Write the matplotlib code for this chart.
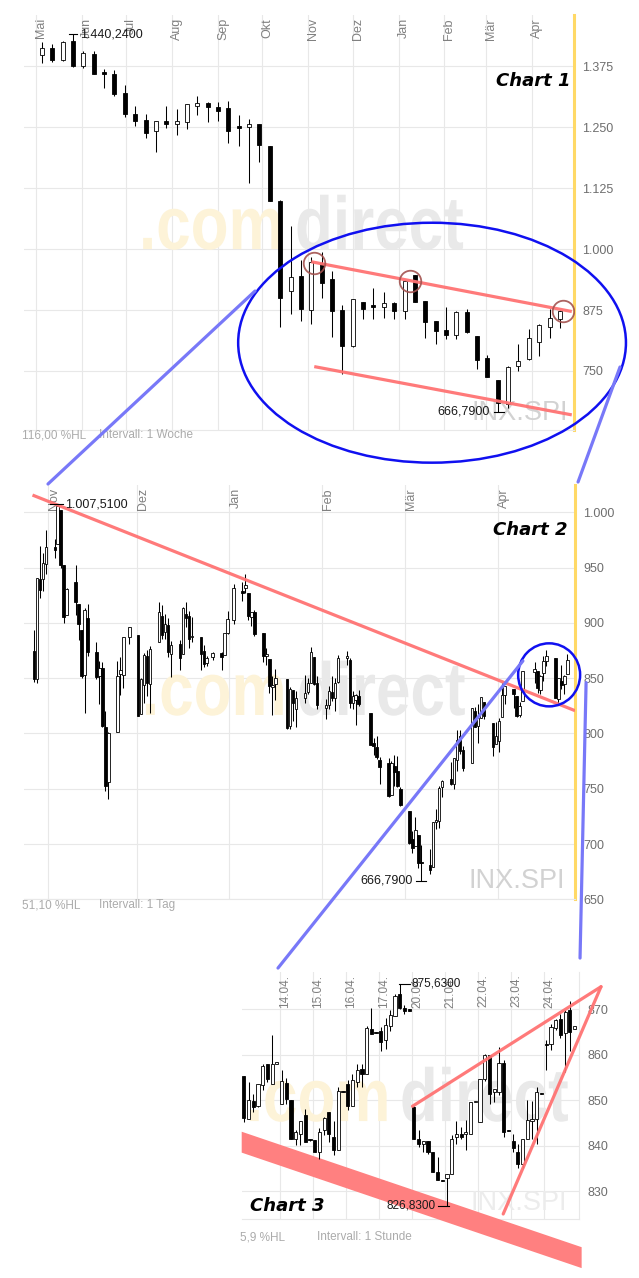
import numpy as np
import pandas as pd
import matplotlib
matplotlib.use("Agg")
import matplotlib.pyplot as plt
import matplotlib.dates as mdates
from matplotlib.patches import Rectangle, Ellipse, Polygon, ConnectionPatch, PathPatch
from matplotlib.transforms import offset_copy, Affine2D
from matplotlib.ticker import FuncFormatter
from matplotlib.textpath import TextPath
from matplotlib.font_manager import FontProperties

plt.rcParams['font.family'] = ['Liberation Sans', 'DejaVu Sans']

# ---------------------------------------------------------------- data
# Chart 1 : weekly candles, weeks starting 2008-04-28
c1_first_week = '2008-04-28'
c1_open = [1399, 1413, 1388, 1426, 1376, 1400, 1363, 1360, 1321, 1278,
           1264, 1242, 1262, 1256, 1261, 1293, 1300, 1292, 1290, 1252,
           1250, 1256, 1212, 1098, 915, 945, 876, 972, 938, 875,
           801, 891, 885, 882, 889, 874, 947, 894, 853, 834,
           824, 871, 822, 777, 732, 682, 761, 774, 810, 841, 856]
c1_high = [1424, 1421, 1426, 1440.24, 1406, 1406, 1370, 1367, 1336, 1293,
           1278, 1263, 1293, 1287, 1298, 1313, 1301, 1301, 1303, 1275,
           1266, 1256, 1212, 1100, 1047, 977, 984, 995, 956, 885,
           897, 891, 920, 911, 891, 936, 947, 894, 853, 881,
           874, 877, 822, 783, 732, 760, 805, 837, 846, 877, 876]
c1_low = [1382, 1384, 1385, 1374, 1372, 1360, 1331, 1314, 1271, 1252,
          1227, 1199, 1249, 1234, 1246, 1275, 1260, 1263, 1218, 1211,
          1135, 1179, 1098, 841, 867, 853, 846, 900, 820, 744,
          800, 857, 856, 859.5, 857, 857, 891, 818, 806, 815,
          815, 827, 754, 737, 666.79, 675, 751, 773, 781, 817, 838]
c1_close = [1413, 1388, 1425, 1376, 1402, 1360, 1360, 1319, 1278, 1263,
            1238, 1262, 1256, 1262, 1297, 1299, 1292, 1283, 1243, 1249,
            1256, 1213, 1098, 900, 942, 877, 973, 931, 874, 801,
            897, 878, 881, 889, 874, 935, 892, 851, 833, 824,
            871, 829, 773, 737, 684, 759, 771, 817, 844, 858, 874]
c1_months = ['Mai', 'Jun', 'Jul', 'Aug', 'Sep', 'Okt', 'Nov', 'Dez', 'Jan', 'Feb', 'Mär', 'Apr']
c1_month_start = ['2008-05-01', '2008-06-01', '2008-07-01', '2008-08-01', '2008-09-01',
                  '2008-10-01', '2008-11-01', '2008-12-01', '2009-01-01', '2009-02-01',
                  '2009-03-01', '2009-04-01']
c1_yticks = [750, 875, 1000, 1125, 1250, 1375]

# Chart 2 : daily candles 2008-10-27 .. 2009-04-24
c2_holidays = ['2008-11-27', '2008-12-25', '2009-01-01', '2009-01-19', '2009-02-16', '2009-04-10']
c2_open = [874.28, 848.92, 939.51, 939.38, 953.11,
           968.67, 971.31, 1001.84, 952.40, 907.44, 936.75, 917.15, 893.39, 853.13, 904.36,
           873.23, 852.34, 859.03, 805.87, 755.84, 801.20, 853.40, 852.90, 886.89,
           888.61, 817.94, 843.60, 869.75, 844.43, 882.71, 906.48, 892.17, 898.35, 871.79,
           881.07, 871.53, 908.16, 905.98, 886.96, 887.20, 874.31, 863.87, 869.51, 872.37, 870.58, 890.59,
           902.99, 929.17, 931.17, 927.45, 905.73, 909.91, 890.40, 869.79, 867.28, 841.99,
           844.45, 849.64, 806.77, 839.74, 822.16, 832.50, 837.30, 845.73, 868.89, 845.69,
           823.09, 825.69, 837.77, 831.75, 846.09, 868.24, 866.87, 827.41, 829.91, 833.95,
           818.61, 791.06, 787.91, 775.87, 773.25, 744.69, 770.64, 765.76, 749.93,
           729.57, 704.44, 698.60, 708.27, 684.04, 680.76, 679.28, 719.59, 720.89, 751.97,
           758.84, 753.88, 776.01, 797.92, 784.58, 772.97, 820.60, 806.81, 814.06, 828.68, 809.07, 790.88,
           793.59, 814.53, 835.13, 839.75, 834.12, 816.76, 829.29, 855.73, 856.88, 839.44,
           854.54, 865.18, 868.27, 831.25, 847.26, 844.62, 853.91]
c2_high = [893.78, 940.51, 969.97, 963.23, 984.38,
           975.57, 1007.51, 1001.84, 952.40, 931.46, 951.95, 917.15, 893.39, 913.01, 916.88,
           882.29, 865.90, 864.57, 820.52, 801.20, 865.60, 868.94, 887.68, 896.25,
           888.61, 850.54, 873.12, 875.60, 879.42, 918.57, 916.26, 908.27, 904.63, 883.24,
           884.63, 914.66, 918.85, 911.02, 905.47, 887.37, 880.44, 869.79, 873.74, 873.70, 891.12, 910.32,
           934.73, 936.63, 943.85, 927.45, 910.00, 911.93, 890.40, 877.02, 867.28, 851.59,
           858.13, 849.64, 841.72, 839.74, 838.61, 852.53, 850.45, 877.86, 868.89, 851.66,
           830.78, 842.60, 851.85, 850.55, 870.75, 875.01, 868.05, 838.22, 835.48, 839.43,
           818.61, 796.17, 797.58, 778.69, 777.85, 775.49, 780.12, 779.42, 751.27,
           729.57, 711.67, 724.12, 708.27, 699.09, 695.27, 719.60, 731.92, 752.63, 758.29,
           774.53, 778.12, 803.04, 803.24, 788.91, 823.37, 823.65, 826.78, 832.98, 828.68, 809.07, 810.48,
           813.62, 845.61, 842.50, 839.75, 834.12, 828.42, 856.91, 864.31, 856.88, 852.93,
           870.35, 875.63, 868.27, 850.09, 861.78, 852.87, 871.80]
c2_low = [846.75, 845.27, 922.26, 928.50, 944.59,
          958.82, 971.31, 949.86, 899.73, 906.90, 907.47, 884.90, 850.48, 818.69, 869.88,
          848.98, 826.84, 806.18, 747.78, 741.02, 801.20, 834.99, 841.37, 881.21,
          815.69, 817.94, 827.60, 833.60, 818.41, 882.71, 885.38, 885.45, 868.73, 851.35,
          857.72, 871.53, 895.94, 877.44, 883.02, 857.09, 860.10, 861.44, 866.52, 857.07, 870.58, 889.67,
          899.35, 919.53, 927.28, 902.37, 896.81, 888.31, 864.32, 862.02, 836.93, 817.04,
          830.66, 804.47, 804.30, 811.29, 806.07, 827.69, 835.40, 845.73, 844.15, 821.67,
          812.87, 821.98, 829.18, 819.91, 845.42, 861.65, 822.99, 822.30, 808.06, 825.21,
          789.17, 780.43, 777.03, 754.25, 742.37, 744.69, 752.89, 751.75, 734.52,
          699.70, 692.30, 698.60, 677.93, 666.79, 672.88, 679.28, 713.85, 714.76, 742.46,
          753.37, 749.93, 765.64, 781.82, 766.20, 772.97, 805.48, 791.37, 814.06, 813.43, 779.81, 790.88,
          783.32, 814.53, 826.70, 822.79, 814.53, 814.84, 829.29, 845.35, 836.31, 835.58,
          847.04, 860.87, 832.39, 826.83, 840.57, 835.58, 853.91]
c2_close = [848.92, 940.51, 930.09, 954.09, 968.75,
            966.30, 1005.75, 952.77, 904.88, 930.99, 919.21, 898.95, 852.30, 911.29, 873.29,
            850.75, 859.12, 806.58, 752.44, 800.03, 851.81, 857.39, 887.68, 896.24,
            816.21, 848.81, 870.74, 845.22, 876.07, 909.70, 888.67, 899.24, 873.59, 879.73,
            868.57, 913.18, 904.42, 885.28, 887.88, 871.63, 863.16, 868.15, 872.80, 869.42, 890.64, 903.25,
            931.80, 927.45, 934.70, 906.65, 909.73, 890.35, 870.26, 871.79, 842.62, 843.74,
            850.12, 805.22, 840.24, 827.50, 831.95, 836.57, 845.71, 874.09, 845.14, 825.88,
            825.44, 838.51, 832.23, 845.85, 868.60, 869.89, 827.16, 833.74, 835.19, 826.84,
            789.17, 788.42, 778.94, 770.05, 743.33, 773.14, 764.90, 752.83, 735.09,
            700.82, 696.33, 712.87, 682.55, 683.38, 676.53, 719.60, 721.36, 750.74, 756.55,
            753.89, 778.12, 794.35, 784.04, 768.54, 822.92, 806.12, 813.88, 832.86, 815.94, 787.53, 797.87,
            811.08, 834.38, 842.50, 835.48, 815.55, 825.16, 856.56, 858.73, 841.50, 852.06,
            865.30, 869.60, 832.39, 850.08, 843.55, 851.92, 866.23]
c2_months = ['Nov', 'Dez', 'Jan', 'Feb', 'Mär', 'Apr']
c2_month_start = ['2008-11-01', '2008-12-01', '2009-01-01', '2009-02-01', '2009-03-01', '2009-04-01']
c2_yticks = [650, 700, 750, 800, 850, 900, 950, 1000]

# Chart 3 : hourly candles (last hour of 09.04., then 13.04. - 24.04., 7 per day)
c3_open = [855.3, 845.8, 849.8, 848.8, 853.4, 857.9, 853.6, 857.9,
           849.3, 853.9, 850.1, 841.5, 842.7, 846.8, 841.5,
           841.3, 838.7, 843.5, 847.4, 842.0, 839.1, 852.0,
           853.5, 848.7, 854.1, 856.9, 855.7, 865.8, 865.1,
           865.2, 863.3, 866.4, 868.5, 873.3, 870.4, 870.0,
           848.6, 841.6, 840.5, 841.0, 838.6, 834.3, 832.5,
           832.9, 833.7, 841.9, 842.5, 842.7, 842.7, 849.6,
           845.3, 854.7, 860.0, 851.9, 851.9, 858.3, 843.4,
           841.0, 838.7, 835.9, 841.6, 845.5, 846.0, 851.6,
           862.5, 862.5, 866.0, 868.0, 864.9, 869.8, 865.8]
c3_high = [855.3, 854.1, 851.3, 853.5, 857.9, 858.1, 864.4, 858.5,
           856.7, 855.0, 850.1, 843.5, 845.5, 848.2, 841.5,
           841.3, 844.0, 846.4, 847.4, 845.4, 853.0, 852.0,
           854.5, 855.9, 857.9, 858.1, 866.4, 870.4, 865.1,
           866.2, 868.2, 869.8, 873.5, 875.63, 870.9, 870.0,
           848.8, 843.5, 841.0, 841.0, 838.6, 837.6, 832.5,
           833.7, 842.4, 845.4, 844.2, 845.7, 849.7, 849.9,
           854.7, 860.1, 860.0, 852.4, 861.8, 858.9, 843.4,
           842.7, 840.3, 841.6, 850.1, 849.8, 853.0, 851.6,
           863.2, 866.7, 867.9, 868.9, 869.8, 871.8, 866.3]
c3_low = [845.2, 845.8, 847.4, 848.6, 852.3, 854.1, 853.6, 857.9,
          849.3, 849.3, 841.5, 840.2, 840.2, 840.9, 841.0,
          838.6, 837.1, 842.4, 840.9, 838.0, 839.1, 851.8,
          847.9, 848.7, 853.0, 853.0, 855.7, 864.5, 864.9,
          860.8, 861.4, 865.2, 868.5, 870.0, 868.9, 869.6,
          841.5, 839.8, 838.7, 838.3, 834.3, 832.5, 832.3,
          826.83, 833.7, 840.5, 841.5, 839.1, 842.7, 849.6,
          845.3, 854.2, 849.3, 849.7, 851.2, 842.0, 843.2,
          838.7, 835.2, 835.2, 841.6, 841.6, 840.3, 851.4,
          856.7, 861.0, 865.4, 863.8, 856.3, 860.8, 865.8]
c3_close = [846.2, 850.0, 848.6, 853.5, 857.6, 854.6, 858.1, 858.5,
            854.2, 850.3, 841.5, 843.0, 845.5, 840.9, 841.2,
            838.6, 843.1, 846.2, 842.7, 839.1, 852.0, 851.8,
            848.7, 854.5, 856.6, 855.7, 866.0, 864.7, 864.9,
            862.9, 866.5, 868.7, 872.9, 870.4, 869.7, 869.6,
            841.6, 840.5, 841.0, 838.6, 834.3, 832.5, 832.3,
            833.7, 841.5, 842.5, 842.0, 843.1, 849.7, 849.9,
            854.7, 860.0, 851.5, 852.4, 858.3, 843.1, 843.2,
            839.6, 836.1, 841.6, 845.7, 846.0, 851.9, 851.4,
            862.2, 866.2, 867.7, 864.4, 869.5, 865.1, 866.3]
c3_days = ['14.04.', '15.04.', '16.04.', '17.04.', '20.04.', '21.04.', '22.04.', '23.04.', '24.04.']
c3_per_day = 7
c3_yticks = [830, 840, 850, 860, 870]

# ---------------------------------------------------------------- figure
W, H = 639, 1278
fig = plt.figure(figsize=(W / 100, H / 100), dpi=100)
fig.patch.set_facecolor('white')

GRID = '#e8e8e8'
YELLOW = '#ffd966'
RED = '#ff7373'
BLUE = '#1010f0'
LBLUE = '#7878f8'
INFO = '#ababab'
WM_FONT = FontProperties(family='Liberation Sans', weight='bold')


def dn(s):
    return mdates.date2num(pd.Timestamp(s).to_pydatetime())


def make_axes(x0, y0, x1, y1):
    ax = fig.add_axes([x0 / W, 1 - y1 / H, (x1 - x0) / W, (y1 - y0) / H])
    ax.set_facecolor('none')
    for s in ax.spines.values():
        s.set_visible(False)
    return ax


def ax_px(ax):
    p = ax.get_position()
    return p.width * W, p.height * H


def px_dx(ax, px):
    a, b = ax.get_xlim()
    return px * (b - a) / ax_px(ax)[0]


def px_dy(ax, px):
    a, b = ax.get_ylim()
    return px * (b - a) / ax_px(ax)[1]


def german(v, pos=None):
    return f'{v:,.0f}'.replace(',', '.')


def style_axes(ax, xgrid, yticks, right_color):
    for xg in xgrid:
        ax.axvline(xg, color=GRID, lw=0.8, zorder=0)
    for yt in yticks:
        ax.axhline(yt, color=GRID, lw=0.8, zorder=0)
    ax.set_xticks([])
    ax.yaxis.tick_right()
    ax.set_yticks(yticks)
    ax.yaxis.set_major_formatter(FuncFormatter(german))
    ax.tick_params(axis='y', length=0, pad=6, labelsize=9, labelcolor='#6e6e6e')
    ax.spines['bottom'].set_visible(True)
    ax.spines['bottom'].set_color(GRID)
    ax.spines['bottom'].set_linewidth(0.8)
    ax.spines['right'].set_visible(True)
    ax.spines['right'].set_color(right_color)
    ax.spines['right'].set_linewidth(2.2 if right_color == YELLOW else 0.8)


def top_labels(ax, xs, labels, dx, size):
    tr = offset_copy(ax.get_xaxis_transform(), fig=fig, x=dx, y=-3, units='dots')
    for x, s in zip(xs, labels):
        ax.text(x, 1, s, transform=tr, rotation=90, ha='center', va='top',
                fontsize=size, color='#808080', zorder=2)


def draw_candles(ax, xs, o, h, l, c, body_px):
    bw = px_dx(ax, body_px)
    minh = px_dy(ax, 1.0)
    for x, oo, hh, ll, cc in zip(xs, o, h, l, c):
        ax.plot([x, x], [ll, hh], color='black', lw=0.75, solid_capstyle='butt', zorder=4)
        lo, hi = min(oo, cc), max(oo, cc)
        if hi - lo < minh:
            mid = (lo + hi) / 2
            lo, hi = mid - minh / 2, mid + minh / 2
        ax.add_patch(Rectangle((x - bw / 2, lo), bw, hi - lo,
                               facecolor='white' if cc >= oo else 'black',
                               edgecolor='black', lw=0.6, zorder=5))


def extreme_label(ax, x, y, text, left_px, right_px, text_dx, ha, size):
    ax.plot([x - px_dx(ax, left_px), x + px_dx(ax, right_px)], [y, y], color='black',
            lw=0.8, zorder=7, clip_on=False)
    ax.text(x, y, text, transform=offset_copy(ax.transData, fig=fig, x=text_dx, y=0, units='dots'),
            ha=ha, va='center', fontsize=size, color='#1a1a1a', zorder=8)


def word(ax, s, xa, ya, sx_px, sy_px, color):
    w, h = ax_px(ax)
    tp = TextPath((0, 0), s, size=1, prop=WM_FONT)
    tr = Affine2D().scale(sx_px / w, sy_px / h).translate(xa, ya) + ax.transAxes
    ax.add_patch(PathPatch(tp, transform=tr, facecolor=color, edgecolor='none', zorder=1,
                           clip_on=False))


def watermark(ax, x_com, x_direct, ya, inx_x, inx_y, inx_color):
    word(ax, '.com', x_com, ya, 62, 75, '#fdf3d8')
    word(ax, 'direct', x_direct, ya, 62, 75, '#e9e9e9')
    ax.text(inx_x, inx_y, 'INX.SPI', transform=ax.transAxes, fontsize=19.5, color=inx_color,
            ha='right', va='baseline', zorder=1)


def info(ax, y, left, right, x2):
    ax.text(-0.004, y, left, transform=ax.transAxes, fontsize=8.5, color=INFO, ha='left', va='center')
    ax.text(x2, y, right, transform=ax.transAxes, fontsize=8.5, color=INFO, ha='left', va='center')


# ---------------------------------------------------------------- chart 1
ax1 = make_axes(24, 15, 574, 430)
m1 = [dn(s) for s in c1_month_start]
ax1.set_xlim(m1[0] - 8.1, m1[0] + 363.5)
ax1.set_ylim(629, 1480)
style_axes(ax1, m1, c1_yticks, YELLOW)
top_labels(ax1, m1, c1_months, 5, 9)
x1 = mdates.date2num(pd.date_range(c1_first_week, periods=len(c1_open), freq='7D').to_pydatetime()) + 7
watermark(ax1, 0.209, 0.4927, 0.436, 0.989, 0.024, '#d2d2d2')
draw_candles(ax1, x1, c1_open, c1_high, c1_low, c1_close, 4.0)
info(ax1, -0.013, '116,00 %HL', 'Intervall: 1 Woche', 0.137)
ax1.text(0.993, 0.841, 'Chart 1', transform=ax1.transAxes, ha='right', va='center', fontsize=13,
         fontweight='bold', fontstyle='italic', family='DejaVu Sans', color='black', zorder=9)
i_hi = int(np.argmax(c1_high))
i_lo = int(np.argmin(c1_low))
extreme_label(ax1, x1[i_hi], c1_high[i_hi], '1.440,2400', 4, 4, 7, 'left', 9)
extreme_label(ax1, x1[i_lo], c1_low[i_lo], '666,7900', 4, 6, -8, 'right', 9)
# trend channel + circles + ellipse
ax1.plot([dn('2008-11-03'), dn('2009-04-28')], [974, 872], color=RED, lw=2.3, zorder=6,
         solid_capstyle='butt', alpha=0.95)
ax1.plot([dn('2008-11-05'), dn('2009-04-28')], [759, 660], color=RED, lw=2.3, zorder=6,
         solid_capstyle='butt', alpha=0.95)
ax1.plot([dn('2008-11-05'), dn('2009-01-09'), dn('2009-04-22')], [971, 934.5, 874], 'o', ms=15.5,
         mfc='none', mec='#a3524f', mew=1.3, zorder=7, alpha=0.9)
ax1.add_patch(Ellipse((dn('2009-01-23') + 0.6, 808), 262, 492, fill=False, edgecolor=BLUE, lw=1.8,
                      zorder=8, clip_on=False))

# ---------------------------------------------------------------- chart 2
ax2 = make_axes(24, 485, 575, 899.3)
m2 = [dn(s) for s in c2_month_start]
ax2.set_xlim(m2[0] - 7.92, m2[0] + 176.98)
ax2.set_ylim(650, 1024.7)
style_axes(ax2, m2, c2_yticks, YELLOW)
top_labels(ax2, m2, c2_months, 6, 9)
d2 = pd.bdate_range('2008-10-27', '2009-04-24', freq='C', holidays=c2_holidays)
x2 = mdates.date2num(d2.to_pydatetime()) + 0.4
watermark(ax2, 0.214, 0.495, 0.4449, 0.981, 0.027, '#d2d2d2')
draw_candles(ax2, x2, c2_open, c2_high, c2_low, c2_close, 2.5)
info(ax2, -0.014, '51,10 %HL', 'Intervall: 1 Tag', 0.137)
ax2.text(0.9855, 0.891, 'Chart 2', transform=ax2.transAxes, ha='right', va='center', fontsize=13,
         fontweight='bold', fontstyle='italic', family='DejaVu Sans', color='black', zorder=9)
j_hi = int(np.argmax(c2_high))
j_lo = int(np.argmin(c2_low))
extreme_label(ax2, x2[j_hi], c2_high[j_hi], '1.007,5100', 8, 5, 7, 'left', 9)
extreme_label(ax2, x2[j_lo], c2_low[j_lo], '666,7900', 5, 5, -9, 'right', 9)
ax2.plot([m2[0] - 5.07, m2[0] + 177], [1015.6, 820.6], color=RED, lw=2.3, zorder=6,
         solid_capstyle='butt', alpha=0.95)
ax2.add_patch(Ellipse((dn('2009-04-18') + 0.3, 853), 20.8, 57, fill=False, edgecolor=BLUE, lw=1.8,
                      zorder=8, clip_on=False))

# ---------------------------------------------------------------- chart 3
ax3 = make_axes(241.7, 971.7, 579, 1219)
x3 = np.arange(len(c3_open))
day_start = [1 + c3_per_day * (k + 1) for k in range(len(c3_days))]
g3 = [s - 0.4 for s in day_start]
ax3.set_xlim(-0.44, 70.94)
ax3.set_ylim(823.9, 878.3)
style_axes(ax3, g3, c3_yticks, GRID)
top_labels(ax3, g3, c3_days, 5, 8.5)
watermark(ax3, 0.012, 0.469, 0.396, 0.964, 0.036, '#ececec')
# falling red band
ax3.add_patch(Polygon([(-0.44, 843.1), (71.5, 817.7), (71.5, 813.1), (-0.44, 838.5)], closed=True,
                      facecolor='#ff8080', edgecolor='none', zorder=3, clip_on=False))
draw_candles(ax3, x3, c3_open, c3_high, c3_low, c3_close, 3.2)
info(ax3, -0.073, '5,9 %HL', 'Intervall: 1 Stunde', 0.224)
ax3.text(0.0246, 0.0538, 'Chart 3', transform=ax3.transAxes, ha='left', va='center', fontsize=13,
         fontweight='bold', fontstyle='italic', family='DejaVu Sans', color='black', zorder=9)
k_hi = int(np.argmax(c3_high))
k_lo = int(np.argmin(c3_low))
extreme_label(ax3, x3[k_hi], c3_high[k_hi], '875,6300', 1, 10, 12, 'left', 8.5)
extreme_label(ax3, x3[k_lo], c3_low[k_lo], '826,8300', 9, 2, -11, 'right', 8.5)
# rising wedge
ax3.plot([35.7, 75.6], [848.7, 875.0], color=RED, lw=2.3, zorder=6, clip_on=False,
         solid_capstyle='round', alpha=0.95)
ax3.plot([54.9, 75.6], [825.0, 875.0], color=RED, lw=2.3, zorder=6, clip_on=False,
         solid_capstyle='round', alpha=0.95)

# ---------------------------------------------------------------- connectors
def connect(axA, xyA, axB, xyB):
    con = ConnectionPatch(xyA=xyA, coordsA=axA.transData, xyB=xyB, coordsB=axB.transData,
                          color=LBLUE, lw=2.3, zorder=10)
    fig.add_artist(con)


connect(ax2, (m2[0] + 0.13, 1025.6), ax1, (m1[0] + 148, 914))
connect(ax2, (m2[0] + 178, 1027.4), ax1, (m1[0] + 394.6, 758.2))
connect(ax3, (7.24, 879.1), ax2, (m2[0] + 159.5, 865.6))
connect(ax3, (71.16, 881.3), ax2, (m2[0] + 180.7, 846))

fig.savefig('out.png', dpi=100)
